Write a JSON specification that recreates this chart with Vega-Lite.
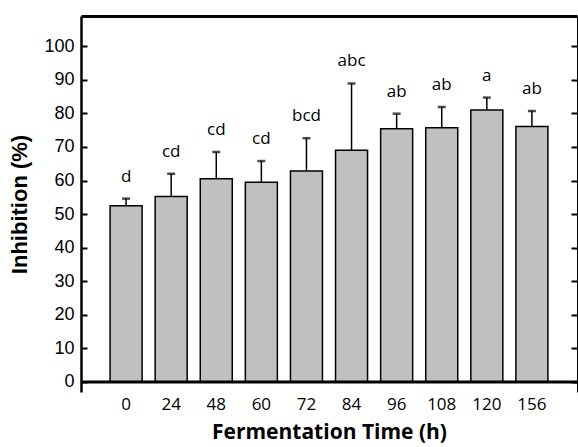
{
  "$schema": "https://vega.github.io/schema/vega-lite/v6.json",
  "width": 496,
  "height": 376,
  "autosize": {"type": "none"},
  "padding": {"left": 81, "top": 16, "right": 1, "bottom": 55},
  "config": {
    "view": {"stroke": null},
    "axis": {"labelColor": "#000", "titleColor": "#000", "domainColor": "#000", "tickColor": "#000", "grid": false}
  },
  "data": {
    "values": [
      {"time": 0, "mean": 52.5, "upper": 54.6, "label": "d"},
      {"time": 24, "mean": 55.2, "upper": 62.0, "label": "cd"},
      {"time": 48, "mean": 60.5, "upper": 68.5, "label": "cd"},
      {"time": 60, "mean": 59.5, "upper": 65.8, "label": "cd"},
      {"time": 72, "mean": 62.8, "upper": 72.6, "label": "bcd"},
      {"time": 84, "mean": 69.0, "upper": 88.9, "label": "abc"},
      {"time": 96, "mean": 75.4, "upper": 79.9, "label": "ab"},
      {"time": 108, "mean": 75.7, "upper": 81.9, "label": "ab"},
      {"time": 120, "mean": 81.0, "upper": 84.7, "label": "a"},
      {"time": 156, "mean": 76.1, "upper": 80.7, "label": "ab"}
    ]
  },
  "layer": [
    {
      "mark": {"type": "bar", "fill": "#c0c0c0", "stroke": "#000", "strokeWidth": 1.5},
      "encoding": {
        "x": {
          "field": "time", "type": "ordinal", "sort": null,
          "scale": {"paddingInner": 0.29, "paddingOuter": 0.645},
          "axis": {
            "orient": "bottom", "title": "Fermentation Time (h)", "domain": false, "ticks": false,
            "labelAngle": 0, "labelFont": "Open Sans", "labelFontSize": 17, "labelPadding": 4,
            "titleFont": "Open Sans", "titleFontSize": 21, "titleFontWeight": "bold", "titlePadding": 9
          }
        },
        "y": {
          "field": "mean", "type": "quantitative",
          "scale": {"domain": [-3, 109], "nice": false, "zero": false},
          "axis": {
            "orient": "left", "values": [0, 10, 20, 30, 40, 50, 60, 70, 80, 90, 100],
            "title": "Inhibition (%)", "tickSize": -6, "tickWidth": 2, "domainWidth": 2.5,
            "labelFont": "Liberation Sans", "labelFontSize": 18, "labelPadding": 13,
            "titleFont": "Liberation Sans", "titleFontSize": 22, "titleFontWeight": "bold", "titlePadding": 12
          }
        }
      }
    },
    {
      "mark": {"type": "rule", "strokeWidth": 1.5, "color": "#000"},
      "encoding": {
        "x": {"field": "time", "type": "ordinal", "sort": null,
          "axis": {"orient": "top", "labels": false, "ticks": false, "title": null, "domainWidth": 3}},
        "y": {"field": "mean", "type": "quantitative",
          "axis": {"orient": "right", "values": [0, 10, 20, 30, 40, 50, 60, 70, 80, 90, 100],
            "labels": false, "title": null, "tickSize": -6, "tickWidth": 2, "domainWidth": 1}},
        "y2": {"field": "upper"}
      }
    },
    {
      "mark": {"type": "tick", "color": "#000", "size": 8, "thickness": 2.5, "orient": "horizontal"},
      "encoding": {
        "x": {"field": "time", "type": "ordinal", "sort": null, "axis": null},
        "y": {"field": "upper", "type": "quantitative", "axis": null}
      }
    },
    {
      "mark": {"type": "text", "font": "Open Sans", "fontSize": 17, "dy": -17, "baseline": "alphabetic", "color": "#000"},
      "encoding": {
        "x": {"field": "time", "type": "ordinal", "sort": null, "axis": null},
        "y": {"field": "upper", "type": "quantitative", "axis": null},
        "text": {"field": "label"}
      }
    },
    {
      "data": {"values": [{"base": 0}]},
      "mark": {"type": "rule", "strokeWidth": 3, "color": "#000"},
      "encoding": {
        "y": {"field": "base", "type": "quantitative", "axis": null}
      }
    }
  ],
  "resolve": {"axis": {"x": "independent", "y": "independent"}}
}
